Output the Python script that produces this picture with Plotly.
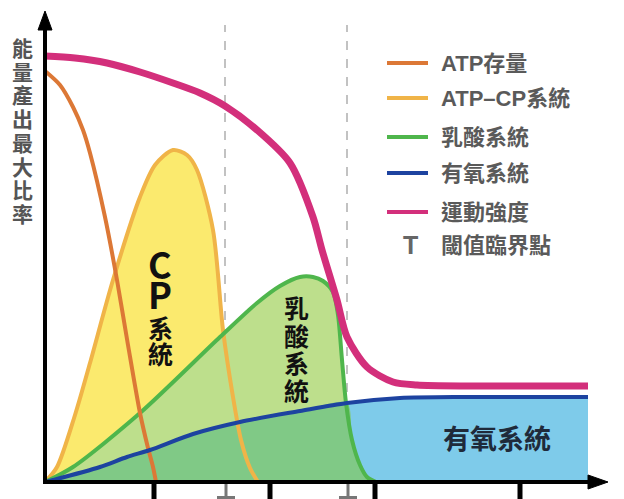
import plotly.graph_objects as go

# ---- data (time in arbitrary units, energy output in arbitrary units) ----
atp_t = [0, 15, 28, 38, 45, 60, 72, 83, 95, 103, 108, 111]
atp_v = [411, 397, 375, 352, 329, 265, 202, 137, 69, 34, 15, 0]

cp_t = [0, 12, 30, 45, 68, 95, 110, 128, 142, 152, 168, 178, 188, 196, 205, 213]
cp_v = [0, 15, 67, 119, 202, 285, 317, 332, 327, 312, 252, 152, 85, 42, 14, 0]

la_t = [0, 28, 95, 175, 212, 235, 255, 268, 278, 288, 293, 297, 301, 307, 315, 322, 331]
la_v = [0, 15, 69, 145, 179, 196, 205, 205, 201, 190, 167, 122, 79, 42, 17, 5, 0]

ox_t = [0, 8, 55, 82, 105, 148, 195, 255, 302, 355, 422, 543]
ox_v = [0, 2, 15, 25, 32, 48, 60, 71, 79, 84, 85, 85]

it_t = [0, 30, 62, 95, 128, 155, 180, 212, 245, 268, 277, 292, 302, 322, 348, 372, 425, 543]
it_v = [426, 424, 419, 410, 399, 389, 376, 352, 319, 265, 232, 182, 145, 115, 100, 97, 96, 96]

threshold_t = [180, 302]
tick_t = [109, 225, 330, 475]

legend_labels = ["ATP存量", "ATP–CP系統", "乳酸系統", "有氧系統", "運動強度", "閾值臨界點"]
y_title = "能量產出最大比率"

# ---- styles ----
C_ATP = "#dc7836"
C_CP = "#f0b448"
C_LA = "#4fb64c"
C_OX = "#1d43a0"
C_IT = "#d32f7b"
F_YEL = "#fbea6e"
F_LGR = "#bddf8c"
F_BLU = "#7ecbea"
F_DGR = "#80c986"
C_T = "#777777"
FONT = "Noto Sans CJK TC"
LFONT = "Liberation Sans, Noto Sans CJK TC"

fig = go.Figure()
sp = dict(shape="spline", smoothing=0.8)

# fills
fig.add_trace(go.Scatter(x=ox_t, y=ox_v, mode="lines", line=dict(width=0, **sp),
                         fill="tozeroy", fillcolor=F_BLU, hoverinfo="skip"))
fig.add_trace(go.Scatter(x=cp_t, y=cp_v, mode="lines", line=dict(width=0, **sp),
                         fill="tozeroy", fillcolor=F_YEL, hoverinfo="skip"))
fig.add_trace(go.Scatter(x=la_t, y=la_v, mode="lines", line=dict(width=0, **sp),
                         fill="tozeroy", fillcolor=F_LGR, hoverinfo="skip"))
# overlap of lactic and aerobic: aerobic up to the crossing, then lactic
k_ox = ox_t.index(302)
k_la = la_t.index(301)
ov_t = ox_t[:k_ox + 1] + la_t[k_la + 1:]
ov_v = ox_v[:k_ox + 1] + la_v[k_la + 1:]
fig.add_trace(go.Scatter(x=ov_t, y=ov_v, mode="lines", line=dict(width=0, **sp),
                         fill="tozeroy", fillcolor=F_DGR, hoverinfo="skip"))

# lines
fig.add_trace(go.Scatter(x=cp_t, y=cp_v, mode="lines", line=dict(color=C_CP, width=4, **sp)))
fig.add_trace(go.Scatter(x=la_t, y=la_v, mode="lines", line=dict(color=C_LA, width=4, **sp)))
fig.add_trace(go.Scatter(x=atp_t, y=atp_v, mode="lines", line=dict(color=C_ATP, width=4, **sp)))
fig.add_trace(go.Scatter(x=ox_t, y=ox_v, mode="lines", line=dict(color=C_OX, width=4, **sp)))
fig.add_trace(go.Scatter(x=it_t, y=it_v, mode="lines", line=dict(color=C_IT, width=7, **sp)))

shapes = []
# threshold dashed lines
for t in threshold_t:
    shapes.append(dict(type="line", xref="x", yref="y", x0=t, x1=t, y0=0, y1=457,
                       line=dict(color="#9a9a9a", width=1.2, dash="dash"), layer="below"))
    # inverted-T threshold marker hanging below the axis
    shapes.append(dict(type="line", xref="x", yref="y", x0=t + 1, x1=t + 1, y0=0, y1=-14,
                       line=dict(color=C_T, width=3)))
    shapes.append(dict(type="rect", xref="x", yref="y", x0=t - 8, x1=t + 10, y0=-14, y1=-22,
                       fillcolor=C_T, line=dict(width=0)))
# axes
shapes.append(dict(type="line", xref="x", yref="y", x0=0, x1=0, y0=-2, y1=458,
                   line=dict(color="black", width=4)))
shapes.append(dict(type="path", xref="x", yref="y", path="M -7,452 L 0,471 L 7,452 Z",
                   fillcolor="black", line=dict(color="black", width=1)))
shapes.append(dict(type="line", xref="x", yref="y", x0=-2, x1=548, y0=0, y1=0,
                   line=dict(color="black", width=4)))
shapes.append(dict(type="path", xref="x", yref="y", path="M 543,-7 L 563,0 L 543,7 Z",
                   fillcolor="black", line=dict(color="black", width=1)))
# ticks
for t in tick_t:
    shapes.append(dict(type="line", xref="x", yref="y", x0=t, x1=t, y0=-2, y1=-20,
                       line=dict(color="black", width=5)))

ann = []
# time label (cut at bottom)
ann.append(dict(x=550, y=-10, xref="x", yref="y", text="時間", showarrow=False,
                xanchor="center", yanchor="top", font=dict(family=FONT, size=16, color="#aaaaaa")))

# legend
leg_colors = [C_ATP, C_CP, C_LA, C_OX, C_IT]
leg_v = [419, 384, 345, 309, 270, 237]
for i, lab in enumerate(legend_labels):
    v = leg_v[i]
    if i < 5:
        shapes.append(dict(type="line", xref="x", yref="y", x0=342, x1=383, y0=v, y1=v,
                           line=dict(color=leg_colors[i], width=4)))
    else:
        ann.append(dict(x=365, y=v, xref="x", yref="y", text="T", showarrow=False,
                        font=dict(family="Liberation Sans", size=25, color="#666666",
                                  weight=900)))
    ann.append(dict(x=394, y=v, xref="x", yref="y", text="<b>" + lab + "</b>", showarrow=False,
                    xanchor="left", yanchor="middle",
                    font=dict(family=LFONT, size=22, color="#5a5a5a")))

# y title, vertical
for i, ch in enumerate(y_title):
    ann.append(dict(x=-23, y=435 - i * 23.7, xref="x", yref="y", text="<b>" + ch + "</b>",
                    showarrow=False, font=dict(family=FONT, size=21, color="#555555")))

# in-chart labels
cp_lab = [("C", 219, 36), ("P", 189, 36), ("系", 155, 25), ("統", 129, 25)]
for ch, v, s in cp_lab:
    ann.append(dict(x=115, y=v, xref="x", yref="y", text="<b>" + ch + "</b>", showarrow=False,
                    font=dict(family=FONT, size=s, color="#111111")))
for i, ch in enumerate("乳酸系統"):
    ann.append(dict(x=251, y=175 - i * 27.5, xref="x", yref="y", text="<b>" + ch + "</b>",
                    showarrow=False, font=dict(family=FONT, size=25, color="#111111")))
ann.append(dict(x=452, y=45, xref="x", yref="y", text="<b>有氧系統</b>", showarrow=False,
                font=dict(family=FONT, size=27, color="#1f2a3a")))

fig.update_layout(
    width=624, height=499, autosize=False,
    margin=dict(l=0, r=0, t=0, b=0),
    paper_bgcolor="white", plot_bgcolor="white",
    showlegend=False,
    xaxis=dict(range=[-45, 579], visible=False, fixedrange=True),
    yaxis=dict(range=[-17, 482], visible=False, fixedrange=True),
    shapes=shapes, annotations=ann,
)
fig.write_html("out.html", config={"displayModeBar": False},
               post_script="document.body.style.margin='0';document.body.style.overflow='hidden';")
